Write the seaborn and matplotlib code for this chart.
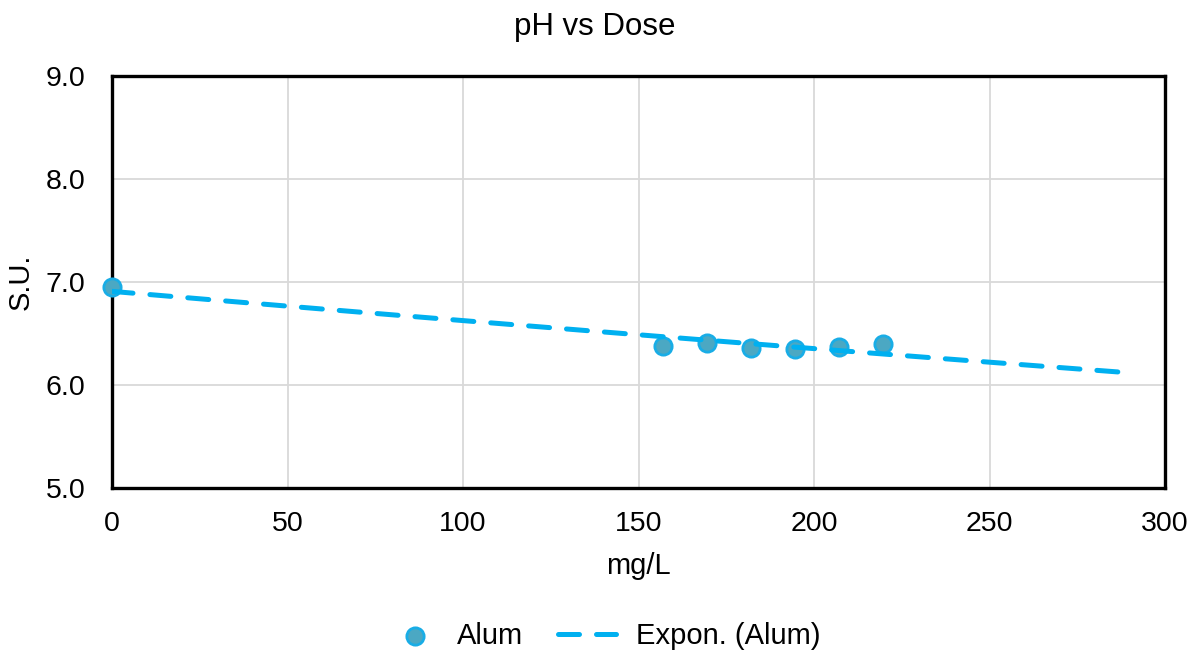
import numpy as np
import pandas as pd
import matplotlib
matplotlib.use("Agg")
import matplotlib.pyplot as plt
import seaborn as sns
from matplotlib.legend_handler import HandlerPathCollection

# Alum dose (mg/L) vs pH (S.U.)
dose = [0, 157, 169.5, 182, 194.5, 207, 219.5]
ph = [6.95, 6.38, 6.41, 6.36, 6.35, 6.37, 6.40]
trend_end = 291  # Excel trendline forecast forward to ~290

sns.set_theme(style="white")
plt.rcParams['font.family'] = ['Liberation Sans', 'DejaVu Sans']
plt.rcParams['text.color'] = 'black'
plt.rcParams['axes.labelcolor'] = 'black'

df = pd.DataFrame({"mg/L": dose, "S.U.": ph})

# exponential trendline, y = a * exp(b x), least squares on ln(y) like Excel
b, ln_a = np.polyfit(df["mg/L"], np.log(df["S.U."]), 1)
x_fit = np.linspace(0, trend_end, 50)
trend = pd.DataFrame({"mg/L": x_fit, "S.U.": np.exp(ln_a) * np.exp(b * x_fit)})


class RightMarker(HandlerPathCollection):
    # put the legend marker near the right end of its handle box
    def get_xdata(self, legend, xdescent, ydescent, width, height, fontsize):
        x = width - xdescent - 0.75 * fontsize
        return [x], [x]


fig = plt.figure(figsize=(11.92, 6.52), dpi=100)
ax = fig.add_axes([0.094, 0.2515, 0.8834, 0.632])

sns.scatterplot(data=df, x="mg/L", y="S.U.", ax=ax, s=155,
                color="#4BA8C3", edgecolor="#19ADE6", linewidth=2.0,
                label="Alum", zorder=3, clip_on=False)
sns.lineplot(data=trend, x="mg/L", y="S.U.", ax=ax, color="#00B0F0",
             linewidth=3.6, dashes=False, label="Expon. (Alum)", zorder=4)
ax.lines[-1].set_dashes((4.2, 3.4))
ax.lines[-1].set_dash_capstyle("round")

ax.set_xlim(0, 300)
ax.set_ylim(5, 9)
ax.set_xticks(range(0, 301, 50))
ax.set_yticks([5, 6, 7, 8, 9])
ax.set_yticklabels([f"{v:.1f}" for v in [5, 6, 7, 8, 9]])
ax.grid(True, color="#D9D9D9", linewidth=1.3)
ax.set_axisbelow(True)
for s in ax.spines.values():
    s.set_color("black")
    s.set_linewidth(2.4)
ax.tick_params(axis="both", labelsize=20.5, length=0, colors="black")
ax.tick_params(axis="x", pad=16.5)
ax.tick_params(axis="y", pad=19)

ax.set_xlabel("mg/L", fontsize=21, labelpad=11)
ax.set_ylabel("S.U.", fontsize=21, labelpad=8)
# chart title is centred on the whole figure, not the plot area
fig.text(0.4987, 1 - 27 / 652, "pH vs Dose", fontsize=22.5,
         ha="center", va="center")

handles, labels = ax.get_legend_handles_labels()
ax.legend_.remove()
fig.legend(handles, labels, loc="center", bbox_to_anchor=(0.503, 0.0245),
           ncol=2, frameon=False, fontsize=21, handlelength=2.0,
           columnspacing=1.2, handletextpad=0.68,
           handler_map={type(handles[0]): RightMarker()})

fig.savefig("out.png", dpi=100)
